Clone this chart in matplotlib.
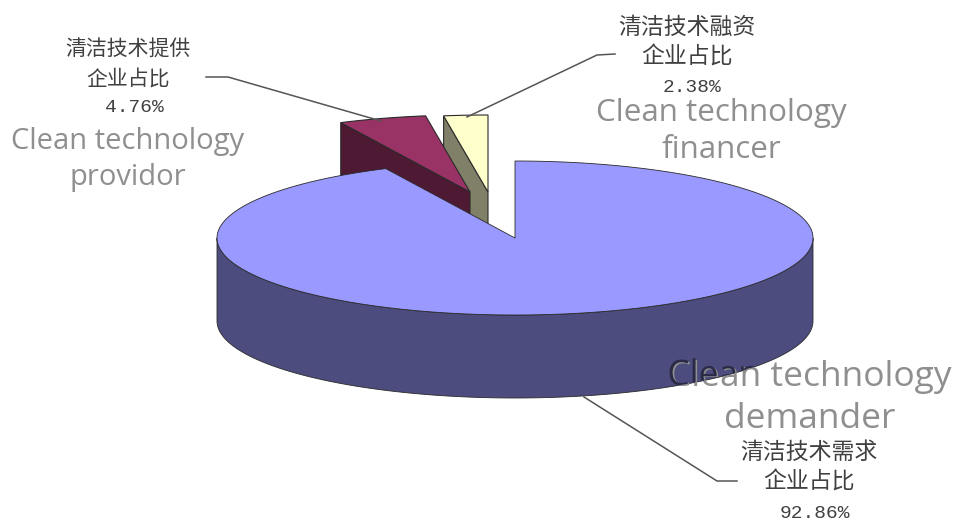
import numpy as np
import matplotlib
matplotlib.use("Agg")
import matplotlib.pyplot as plt
from matplotlib.font_manager import FontProperties
from matplotlib.patches import PathPatch, Polygon
from matplotlib.textpath import TextPath
from matplotlib.transforms import Affine2D

# share of each company type, clockwise from 12 o'clock
names_cn = ["清洁技术需求", "清洁技术提供", "清洁技术融资"]
names_en = [["Clean technology", "demander"], ["Clean technology", "providor"], ["Clean technology", "financer"]]
shares = [92.86, 4.76, 2.38]
top_colors = ["#9999FF", "#993366", "#FFFFCC"]
side_colors = ["#4C4C7F", "#4D1933", "#808068"]

CN_FONT = ["Noto Sans CJK SC", "DejaVu Sans"]
NUM_FONT = ["Liberation Mono", "DejaVu Sans"]
EN_FONT = ["Open Sans", "DejaVu Sans"]
EN_GRAY = "#8f8f8f"
CN_GRAY = "#404040"

RX, RY, DEPTH = 298, 77, 83
centers = [(515, 238), (470, 192), (488, 192)]

fig = plt.figure(figsize=(9.54, 5.21), dpi=100)
ax = fig.add_axes([0, 0, 1, 1])
ax.set_xlim(0, 954)
ax.set_ylim(521, 0)
ax.axis("off")


def arc(center, a0, a1, n=120):
    # angles in degrees, clockwise from the top of the ellipse
    t = np.radians(np.linspace(a0, a1, n))
    return np.column_stack([center[0] + RX * np.sin(t), center[1] - RY * np.cos(t)])


def add_poly(pts, color, z, lw=0.8):
    p = Polygon(pts, closed=True, facecolor=color, edgecolor="#2a2a2a", linewidth=lw, zorder=z)
    ax.add_patch(p)
    return p


bounds = np.cumsum([0] + shares) / sum(shares) * 360
down = np.array([0, DEPTH])

# the two pulled-out slices sit behind the big one, smallest first
for i, z in [(2, 2), (1, 3)]:
    c = np.array(centers[i], dtype=float)
    rim = arc(c, bounds[i], bounds[i + 1], 30)
    # cut face seen from the front: outer left point to the apex, extruded down
    add_poly([rim[0], c, c + down, rim[0] + down], side_colors[i], z)
    add_poly(np.vstack([c, rim]), top_colors[i], z + 0.5)

# big slice: front wall first, then the top surface
c = np.array(centers[0], dtype=float)
front = arc(c, 90, 270)
wall = add_poly(np.vstack([front, (front + down)[::-1]]), side_colors[0], 5, lw=0.6)
add_poly(np.vstack([c, arc(c, bounds[0], bounds[1], 300)]), top_colors[0], 6, lw=0.6)

# leader lines
leader_color = "#555555"
ax.plot([737, 717, 584], [481, 481, 397], color=leader_color, lw=1.1, zorder=4)
ax.plot([206, 228, 381], [77, 77, 121], color=leader_color, lw=1.1, zorder=4)
ax.plot([615, 597, 467], [54, 55, 117], color=leader_color, lw=1.1, zorder=4)


def cn_label(i, x, ys, size, xnum):
    ax.text(x, ys[0], names_cn[i], family=CN_FONT, fontsize=size, color=CN_GRAY, ha="center", va="center", zorder=8)
    ax.text(x, ys[1], "企业占比", family=CN_FONT, fontsize=size, color=CN_GRAY, ha="center", va="center", zorder=8)
    ax.text(xnum, ys[2], f"{shares[i]:.2f}%", family=NUM_FONT, fontsize=14, color=CN_GRAY,
            ha="center", va="center", zorder=8)


cn_label(0, 809, [452, 482, 513], 16.5, 815)
cn_label(1, 128, [50, 79, 108], 15, 134)
cn_label(2, 687, [27, 57, 87], 16.5, 692)

# gray overlay captions
en_layout = [(810, [377, 419], 25.5), (128, [141, 177], 21), (721, [113, 150], 22.6)]
for i, (x, ys, size) in enumerate(en_layout):
    for line, y in zip(names_en[i], ys):
        ax.text(x, y, line, family=EN_FONT, fontsize=size, color=EN_GRAY, ha="center", va="center", zorder=9)

# agg ignores clip paths on text, so the darker part over the pie wall is a glyph outline
x, ys, size = en_layout[0]
glyphs = TextPath((0, 0), names_en[0][0], size=size * 100 / 72, prop=FontProperties(family="Open Sans"))
box = glyphs.get_extents()
place = Affine2D().translate(-(box.x0 + box.x1) / 2, -(box.y0 + box.y1) / 2).scale(1, -1).translate(x, ys[0] - 1)
dark = PathPatch(glyphs, facecolor="#2b2b48", edgecolor="none", transform=place + ax.transData, zorder=10)
ax.add_patch(dark)
dark.set_clip_path(wall)

fig.savefig("out.png", dpi=100)
